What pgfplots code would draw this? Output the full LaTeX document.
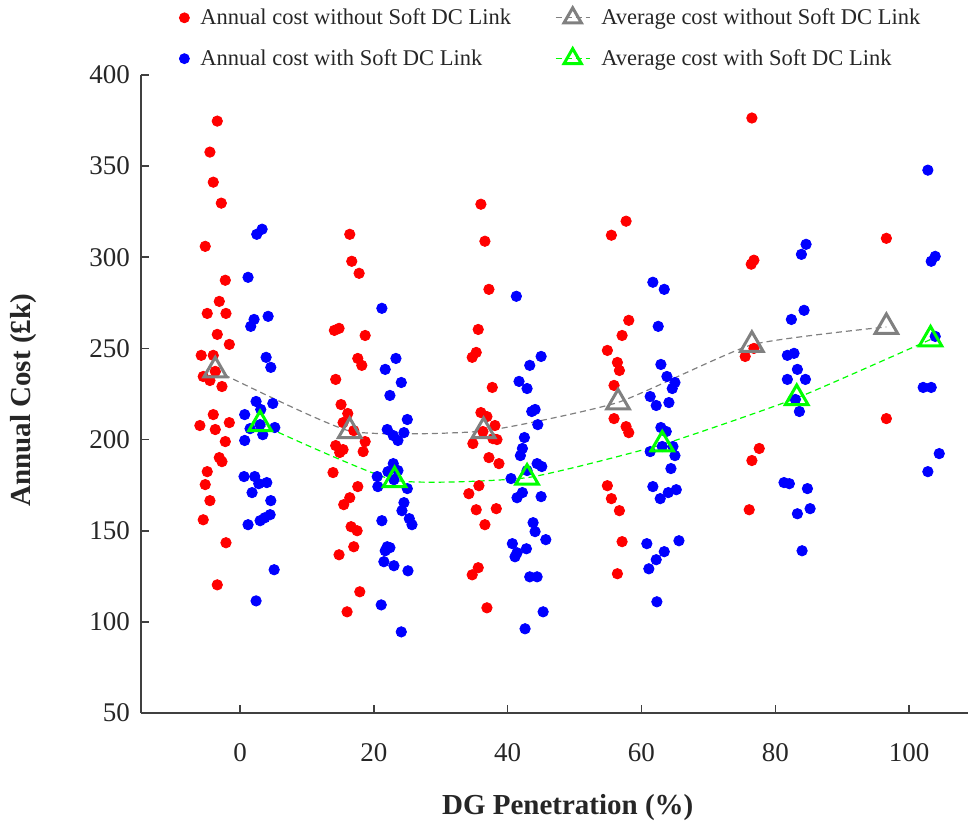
\documentclass[border=0pt]{standalone}
\usepackage{pgfplots}
\pgfplotsset{compat=1.18}
\usepackage{pgfplotstable}
\usepackage{fontspec}
\setmainfont{Liberation Serif}
\definecolor{mgray}{RGB}{128,128,128}
\definecolor{mgreen}{RGB}{0,255,0}
\definecolor{axgray}{RGB}{64,64,64}
\definecolor{txt}{RGB}{38,38,38}

\pgfplotstableread{
x y
-3.4 374.7
-4.5 357.7
-4.0 341.2
-2.8 329.7
-5.2 306.0
-2.2 287.4
-3.1 275.8
-4.9 269.2
-2.1 269.2
-3.4 257.7
-1.6 252.2
-5.8 246.2
-4.0 246.2
-5.5 234.6
-4.5 232.4
-3.7 237.4
-2.7 229.1
-4.0 213.7
-6.0 207.7
-3.7 205.5
-1.6 209.3
-2.2 198.9
-3.1 190.1
-2.7 187.9
-4.9 182.4
-5.2 175.3
-4.5 166.5
-5.5 156.0
-2.1 143.4
-3.4 120.3
16.4 312.6
16.7 297.8
17.8 291.2
14.1 259.9
14.8 261.0
18.7 257.1
17.6 244.5
18.2 240.7
14.3 233.0
15.1 219.2
16.1 214.3
15.4 209.3
17.0 204.9
18.7 198.9
14.3 196.7
15.4 194.5
14.9 192.9
18.4 193.4
13.9 181.9
17.6 174.2
16.4 168.1
15.5 164.3
16.6 152.2
17.5 150.0
17.0 141.2
14.8 136.8
17.9 116.5
16.0 105.5
36.0 329.1
36.6 308.8
37.2 282.4
35.6 260.4
35.3 247.8
34.7 245.1
37.7 228.6
36.0 214.8
36.9 212.6
38.1 207.7
36.3 204.4
34.8 197.8
37.8 200.5
38.4 200.0
37.2 190.1
38.7 186.8
35.7 174.7
34.2 170.3
35.3 161.5
38.3 162.1
36.6 153.3
35.6 129.7
34.7 125.8
36.9 107.7
57.7 319.8
55.5 312.1
58.1 265.4
57.1 257.1
54.9 248.9
56.4 242.3
56.7 237.9
55.9 229.7
55.9 211.5
57.7 207.1
58.1 203.8
54.9 174.7
55.5 167.6
56.7 161.0
57.1 144.0
56.4 126.4
76.5 376.4
76.8 298.4
76.4 296.2
76.8 250.0
75.5 245.6
77.6 195.1
76.5 188.5
76.1 161.5
96.6 310.4
96.6 211.5
}\without

\pgfplotstableread{
x y
3.3 315.4
2.5 312.6
1.2 289.0
4.2 267.6
2.1 265.9
1.6 262.1
3.9 245.1
4.6 239.6
2.4 220.9
4.9 219.8
0.7 213.7
3.1 216.5
1.5 206.0
3.4 202.7
5.2 206.6
0.7 199.5
3.0 208.2
0.6 179.7
2.2 179.7
2.8 175.8
4.0 176.4
1.8 170.9
4.6 166.5
3.0 155.5
3.7 157.1
4.5 158.8
1.2 153.3
5.1 128.6
2.4 111.5
21.2 272.0
23.3 244.5
21.7 238.5
24.1 231.3
22.4 224.2
25.0 211.0
22.0 205.5
24.5 203.8
22.9 202.2
23.6 199.5
22.9 186.8
22.1 182.4
23.6 183.0
20.5 179.7
20.6 174.2
23.0 178.0
25.0 173.1
24.5 165.4
24.2 161.0
25.3 156.6
25.7 153.3
21.2 155.5
22.0 141.2
22.4 140.7
21.7 139.0
21.5 133.0
23.0 130.8
25.1 128.0
21.1 109.3
24.1 94.5
41.3 278.6
45.0 245.6
43.3 240.7
41.7 231.9
42.9 228.0
44.1 216.5
43.6 215.4
44.5 208.2
42.5 201.1
42.2 195.1
41.9 191.2
44.4 186.8
45.1 185.2
42.9 183.0
40.5 178.6
42.2 170.9
41.4 168.1
45.0 168.7
43.8 154.4
44.1 149.5
45.7 145.1
40.7 142.9
42.8 140.1
41.4 137.9
41.1 135.7
43.3 124.7
44.4 124.7
45.3 105.5
42.6 96.2
61.7 286.3
63.4 282.4
62.5 262.1
62.9 241.2
63.8 234.6
65.0 231.3
64.6 228.0
61.3 223.6
62.2 218.7
64.1 220.3
62.9 206.6
63.7 204.4
61.3 193.4
63.1 196.2
64.7 196.2
65.0 191.2
64.4 184.1
61.7 174.2
62.8 167.6
64.0 170.9
65.2 172.5
60.8 142.9
65.6 144.5
63.4 138.5
62.2 134.1
61.1 129.1
62.3 111.0
84.6 307.1
83.9 301.6
84.3 270.9
82.4 265.9
81.8 246.2
82.8 247.3
83.3 238.5
81.8 233.0
84.5 233.0
83.0 222.0
83.6 215.4
81.3 176.4
82.1 175.8
84.8 173.1
85.2 162.1
83.3 159.3
84.0 139.0
102.8 347.8
103.9 300.5
103.3 297.8
103.9 256.6
102.1 228.6
103.3 228.6
104.5 192.3
102.8 182.4
}\withlink

\pgfplotstableread{
x y
-3.7 238.0
16.4 204.7
36.4 204.7
56.5 220.4
76.5 252.0
96.6 261.8
}\avgwithout

\pgfplotstableread{
x y
3.0 208.5
23.1 177.7
42.9 179.1
63.1 197.3
83.2 222.8
103.2 254.9
}\avgwith

\begin{document}
\begin{tikzpicture}
\begin{axis}[
  name=ax,
  scale only axis, width=413.5pt, height=319pt,
  xmin=-14.8, xmax=108.8, ymin=50, ymax=400,
  axis x line*=bottom, axis y line*=left,
  axis line style={axgray, line width=0.8pt},
  tick style={axgray, line width=0.8pt},
  tick align=inside, major tick length=4pt,
  xtick={0,20,40,60,80,100}, ytick={50,100,...,400},
  /pgf/number format/assume math mode=true,
  tick label style={font=\fontsize{13.5}{16}\selectfont, text=txt},
  xticklabel style={yshift=-11.5pt},
  yticklabel style={xshift=-2pt},
  xlabel={DG Penetration (\%)},
  ylabel={Annual Cost (£k)},
  label style={font=\fontsize{14.5}{17}\selectfont\bfseries, text=txt},
  xlabel style={at={(axis description cs:0.516,-0.1489)}, anchor=center},
  ylabel style={at={(axis description cs:-0.1420,0.49)}, anchor=center},
  legend columns=2,
  legend cell align=left,
  legend style={at={(axis description cs:0,1)}, anchor=north west,
    xshift=19pt, yshift=35.5pt, draw=none, fill=none,
    font=\fontsize{11.25}{13}\selectfont, text=txt, inner sep=0pt,
    /tikz/every odd column/.append style={column sep=3.5pt},
    /tikz/every even column/.append style={column sep=20pt},
    row sep=7pt},
]
\addlegendimage{only marks, mark=*, mark size=2.5pt, mark options={draw=red, fill=red}}
\addlegendentry{Annual cost without Soft DC Link}
\addlegendimage{mgray, dash pattern=on 3pt off 2pt, line width=0.6pt, mark=triangle, mark size=5pt, mark options={solid, line width=1.5pt}}
\addlegendentry{Average cost without Soft DC Link}
\addlegendimage{only marks, mark=*, mark size=2.5pt, mark options={draw=blue, fill=blue}}
\addlegendentry{Annual cost with Soft DC Link}
\addlegendimage{mgreen, dash pattern=on 3pt off 2pt, line width=0.6pt, mark=triangle, mark size=5pt, mark options={solid, line width=1.5pt}}
\addlegendentry{Average cost with Soft DC Link}

\addplot[forget plot, only marks, mark=*, mark size=2.6pt, mark options={draw=red, fill=red}] table[x=x,y=y] {\without};
\addplot[forget plot, only marks, mark=*, mark size=2.6pt, mark options={draw=blue, fill=blue}] table[x=x,y=y] {\withlink};
\addplot[forget plot, mgray, smooth, tension=0.3, dash pattern=on 3pt off 2pt, line width=0.6pt, mark=triangle, mark size=6.5pt, mark options={solid, line width=1.5pt}] table[x=x,y=y] {\avgwithout};
\addplot[forget plot, mgreen, smooth, tension=0.3, dash pattern=on 3pt off 2pt, line width=0.6pt, mark=triangle, mark size=6.5pt, mark options={solid, line width=1.5pt}] table[x=x,y=y] {\avgwith};
\end{axis}
\pgfresetboundingbox
\path ([shift={(-70.5pt,-58pt)}]ax.south west) rectangle ([shift={(0pt,37.5pt)}]ax.north east);
\end{tikzpicture}
\end{document}
